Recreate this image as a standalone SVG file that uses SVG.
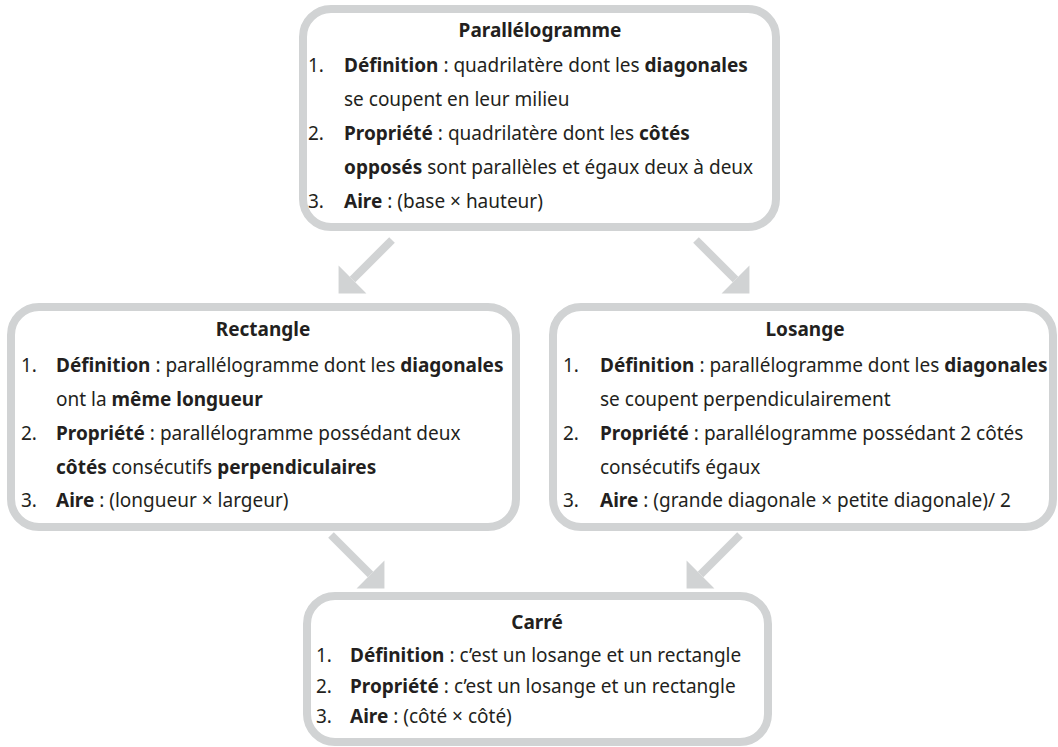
<svg xmlns="http://www.w3.org/2000/svg" width="1058" height="747" viewBox="0 0 1058 747">
<style>
  .box { fill: #ffffff; stroke: #d1d3d4; stroke-width: 8; }
  text { font-family: "Noto Sans", "Open Sans", "DejaVu Sans", sans-serif; font-size: 19px; fill: #231f20; }
  .title { font-weight: bold; text-anchor: middle; }
  .b { font-weight: bold; }
  .arrow { fill: none; stroke: #d1d3d4; stroke-width: 8; }
</style>
<defs>
  <marker id="head" markerUnits="userSpaceOnUse" markerWidth="20" markerHeight="40" refX="0" refY="0" viewBox="0 -18 18 36" orient="auto" overflow="visible">
    <path d="M0,-17.7 L17.7,0 L0,17.7 Z" fill="#d1d3d4"/>
  </marker>
</defs>
<g id="connectors">
  <path class="arrow" d="M392,240 L352.5,279.5" marker-end="url(#head)"/>
  <path class="arrow" d="M696,240 L735.5,279.5" marker-end="url(#head)"/>
  <path class="arrow" d="M331,535 L370.5,574.5" marker-end="url(#head)"/>
  <path class="arrow" d="M740,535 L700.5,574.5" marker-end="url(#head)"/>
</g>
<g id="parallelogramme">
  <rect class="box" x="303" y="9" width="473" height="218" rx="28"/>
  <text class="title" x="540" y="37">Parallélogramme</text>
  <text x="308" y="72">1.</text>
  <text x="344" y="72"><tspan class="b">Définition</tspan> : quadrilatère dont les <tspan class="b">diagonales</tspan></text>
  <text x="344" y="106">se coupent en leur milieu</text>
  <text x="308" y="140">2.</text>
  <text x="344" y="140"><tspan class="b">Propriété</tspan> : quadrilatère dont les <tspan class="b">côtés</tspan></text>
  <text x="344" y="174"><tspan class="b">opposés</tspan> sont parallèles et égaux deux à deux</text>
  <text x="308" y="208">3.</text>
  <text x="344" y="208"><tspan class="b">Aire</tspan> : (base × hauteur)</text>
</g>
<g id="rectangle">
  <rect class="box" x="11" y="307" width="505" height="220" rx="28"/>
  <text class="title" x="263" y="336">Rectangle</text>
  <text x="21" y="372">1.</text>
  <text x="56" y="372"><tspan class="b">Définition</tspan> : parallélogramme dont les <tspan class="b">diagonales</tspan></text>
  <text x="56" y="406">ont la <tspan class="b">même longueur</tspan></text>
  <text x="21" y="440">2.</text>
  <text x="56" y="440"><tspan class="b">Propriété</tspan> : parallélogramme possédant deux</text>
  <text x="56" y="474"><tspan class="b">côtés</tspan> consécutifs <tspan class="b">perpendiculaires</tspan></text>
  <text x="21" y="507">3.</text>
  <text x="56" y="507"><tspan class="b">Aire</tspan> : (longueur × largeur)</text>
</g>
<g id="losange">
  <rect class="box" x="553" y="307" width="500" height="220" rx="28"/>
  <text class="title" x="805" y="336">Losange</text>
  <text x="563" y="372">1.</text>
  <text x="600" y="372"><tspan class="b">Définition</tspan> : parallélogramme dont les <tspan class="b">diagonales</tspan></text>
  <text x="600" y="406">se coupent perpendiculairement</text>
  <text x="563" y="440">2.</text>
  <text x="600" y="440"><tspan class="b">Propriété</tspan> : parallélogramme possédant 2 côtés</text>
  <text x="600" y="474">consécutifs égaux</text>
  <text x="563" y="507">3.</text>
  <text x="600" y="507"><tspan class="b">Aire</tspan> : (grande diagonale × petite diagonale)/ 2</text>
</g>
<g id="carre">
  <rect class="box" x="307" y="596" width="461" height="146" rx="28"/>
  <text class="title" x="537" y="629">Carré</text>
  <text x="316" y="662">1.</text>
  <text x="350" y="662"><tspan class="b">Définition</tspan> : c’est un losange et un rectangle</text>
  <text x="316" y="693">2.</text>
  <text x="350" y="693"><tspan class="b">Propriété</tspan> : c’est un losange et un rectangle</text>
  <text x="316" y="723">3.</text>
  <text x="350" y="723"><tspan class="b">Aire</tspan> : (côté × côté)</text>
</g>
</svg>
